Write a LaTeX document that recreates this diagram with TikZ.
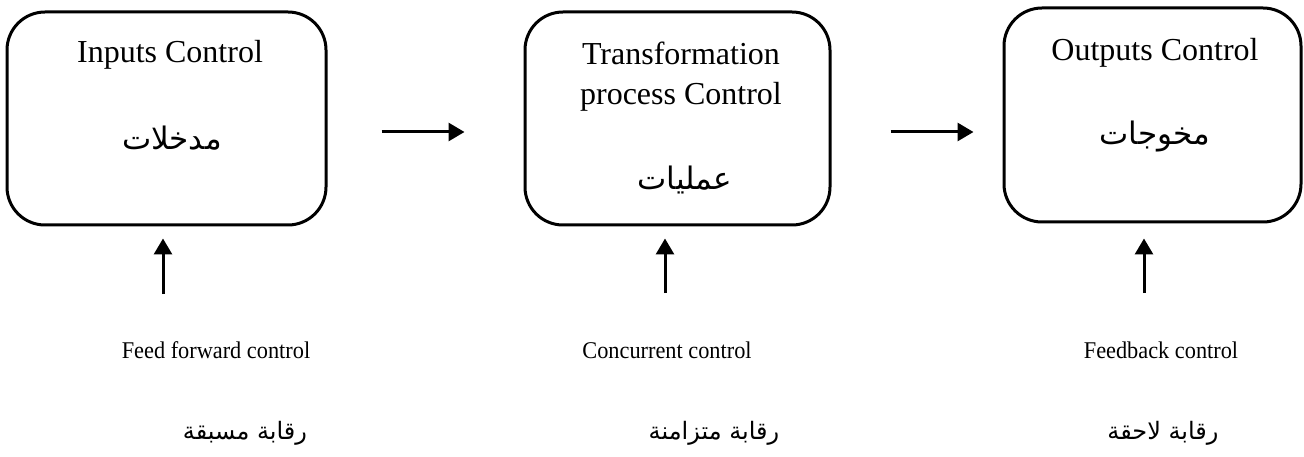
\documentclass[tikz,border=0pt]{standalone}
\usepackage{fontspec}
\setmainfont{Liberation Serif}
\newfontfamily\lblfont{Liberation Serif}[FakeStretch=0.93]
\newfontfamily\arabicfont[Script=Arabic]{DejaVu Sans}
\TeXXeTstate=1
\usetikzlibrary{arrows.meta}
\tikzset{
  ctrlbox/.style={draw, line width=3pt, rounded corners=38pt, inner sep=0pt},
  flow/.style={line width=3pt, line cap=butt, -{Triangle[length=16pt,width=18pt]}},
  entxt/.style={font=\fontsize{32}{40}\selectfont},
  artxt/.style={font=\arabicfont\fontsize{31}{36}\selectfont},
  lbltxt/.style={font=\lblfont\fontsize{24}{28}\selectfont},
  arlbl/.style={font=\arabicfont\fontsize{24}{28}\selectfont}
}
\begin{document}
\begin{tikzpicture}[line cap=round,line join=round,x=1pt,y=-1pt]
                \useasboundingbox (0,0) rectangle (1304,457);
                % control stages
                \node[ctrlbox, minimum width=319pt, minimum height=213pt] (in) at (166.5,118.5) {};
                \node[ctrlbox, minimum width=305pt, minimum height=213pt] (tp) at (677.5,118.5) {};
                \node[ctrlbox, minimum width=297pt, minimum height=214pt] (out) at (1152.5,115) {};
                \node[entxt] (inEn) at (170,55) {Inputs Control};
                \node[artxt] (inAr) at (172,138) {\beginR مدخلات\endR};
                \node[entxt, align=center] (tpEn) at (681,77) {Transformation\\process Control};
                \node[artxt] (tpAr) at (685,180) {\beginR عمليات\endR};
                \node[entxt] (outEn) at (1155,53) {Outputs Control};
                \node[artxt] (outAr) at (1155,137) {\beginR مخوجات\endR};
                % flow between stages
                \draw[flow, shorten <=54pt, shorten >=59pt] ([yshift=-13.5pt]in.east) -- ([yshift=-13.5pt]tp.west);
                \draw[flow, shorten <=59pt, shorten >=29pt] ([yshift=-13.5pt]tp.east) -- ([yshift=-13.5pt]tp.east -| out.west);
                % kinds of control
                \coordinate (ffTail) at (163,294);
                \coordinate (ccTail) at (665,293);
                \coordinate (fbTail) at (1144,293);
                \draw[flow, shorten >=12pt] (ffTail) -- (ffTail |- in.south);
                \draw[flow, shorten >=12pt] (ccTail) -- (ccTail |- tp.south);
                \draw[flow, shorten >=15pt] (fbTail) -- (fbTail |- out.south);
                \begin{scope}
                    \node[lbltxt] (ffEn) at (216,350) {Feed forward control};
                    \node[arlbl] (ffAr) at (245,433) {\beginR رقابة مسبقة\endR};
                    \node[lbltxt] (ccEn) at (667,350) {Concurrent control};
                    \node[arlbl] (ccAr) at (714,433) {\beginR رقابة متزامنة\endR};
                    \node[lbltxt] (fbEn) at (1161,350) {Feedback control};
                    \node[arlbl] (fbAr) at (1163,433) {\beginR رقابة لاحقة\endR};
                \end{scope}
            \end{tikzpicture}
\end{document}
